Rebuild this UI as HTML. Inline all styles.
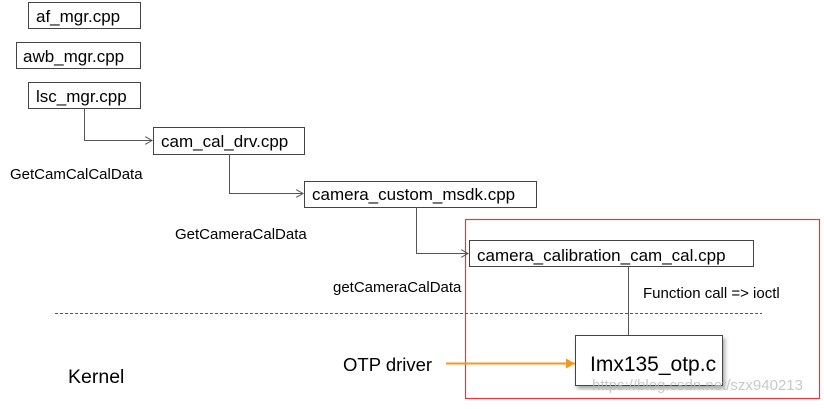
<!DOCTYPE html>
<html><head><style>
body{margin:0;width:824px;height:404px;background:#fff;overflow:hidden;font-family:"Liberation Sans",sans-serif;}
</style></head><body>
<svg width="824" height="404" xmlns="http://www.w3.org/2000/svg" font-family="Liberation Sans, sans-serif">
<defs>
<marker id="a" markerWidth="8" markerHeight="8" refX="7" refY="4" orient="auto" markerUnits="userSpaceOnUse"><path d="M0,0 L7,4 L0,8" fill="none" stroke="#555" stroke-width="1"/></marker>
<marker id="o" markerWidth="10" markerHeight="10" refX="9" refY="5" orient="auto" markerUnits="userSpaceOnUse"><path d="M0,0 L9,5 L0,10z" fill="#f29a1f"/></marker>
<filter id="s"><feDropShadow dx="2" dy="3" stdDeviation="2" flood-opacity="0.35"/></filter>
</defs>
<g fill="#fff" stroke="#444" stroke-width="1">
<rect x="28.5" y="2.5" width="112" height="26"/>
<rect x="16.5" y="42.5" width="124" height="26"/>
<rect x="28.5" y="82.5" width="112" height="26"/>
<rect x="153.5" y="127.5" width="151" height="27"/>
<rect x="304.5" y="181.5" width="232" height="26"/>
</g>
<rect x="465.5" y="219.5" width="354" height="179" fill="none" stroke="#e8383d" stroke-width="1.2"/>
<rect x="469.5" y="240.5" width="284" height="26" fill="#fff" stroke="#444"/>
<rect x="575.5" y="335.5" width="147" height="50" fill="#fff" stroke="#444" filter="url(#s)"/>
<g fill="none" stroke="#555" stroke-width="1">
<path d="M84.5,108 V140.5 H152" marker-end="url(#a)"/>
<path d="M229.5,154 V193.5 H303" marker-end="url(#a)"/>
<path d="M416.5,207 V253.5 H468" marker-end="url(#a)"/>
<path d="M628.5,266 V335"/>
</g>
<line x1="55" y1="313.5" x2="762" y2="313.5" stroke="#555" stroke-dasharray="3,2"/>
<line x1="446" y1="363.5" x2="575" y2="363.5" stroke="#f29a1f" stroke-width="2" marker-end="url(#o)"/>
<g font-size="17" fill="#000">
<text x="36" y="22">af_mgr.cpp</text>
<text x="23" y="62">awb_mgr.cpp</text>
<text x="36" y="102">lsc_mgr.cpp</text>
<text x="161" y="147">cam_cal_drv.cpp</text>
<text x="312" y="200">camera_custom_msdk.cpp</text>
<text x="477" y="261">camera_calibration_cam_cal.cpp</text>
</g>
<g font-size="15" fill="#000">
<text x="10" y="179">GetCamCalCalData</text>
<text x="175" y="239">GetCameraCalData</text>
<text x="333" y="292">getCameraCalData</text>
<text x="643" y="298">Function call =&gt; ioctl</text>
</g>
<text x="590" y="371" font-size="21" fill="#000">Imx135_otp.c</text>
<text x="343" y="371" font-size="18.5" fill="#000">OTP driver</text>
<text x="68" y="383" font-size="19.5" fill="#000">Kernel</text>
<text x="592" y="390" font-size="15" fill="#bbb" opacity="0.8">https://blog.csdn.net/szx940213</text>
</svg>
</body></html>
